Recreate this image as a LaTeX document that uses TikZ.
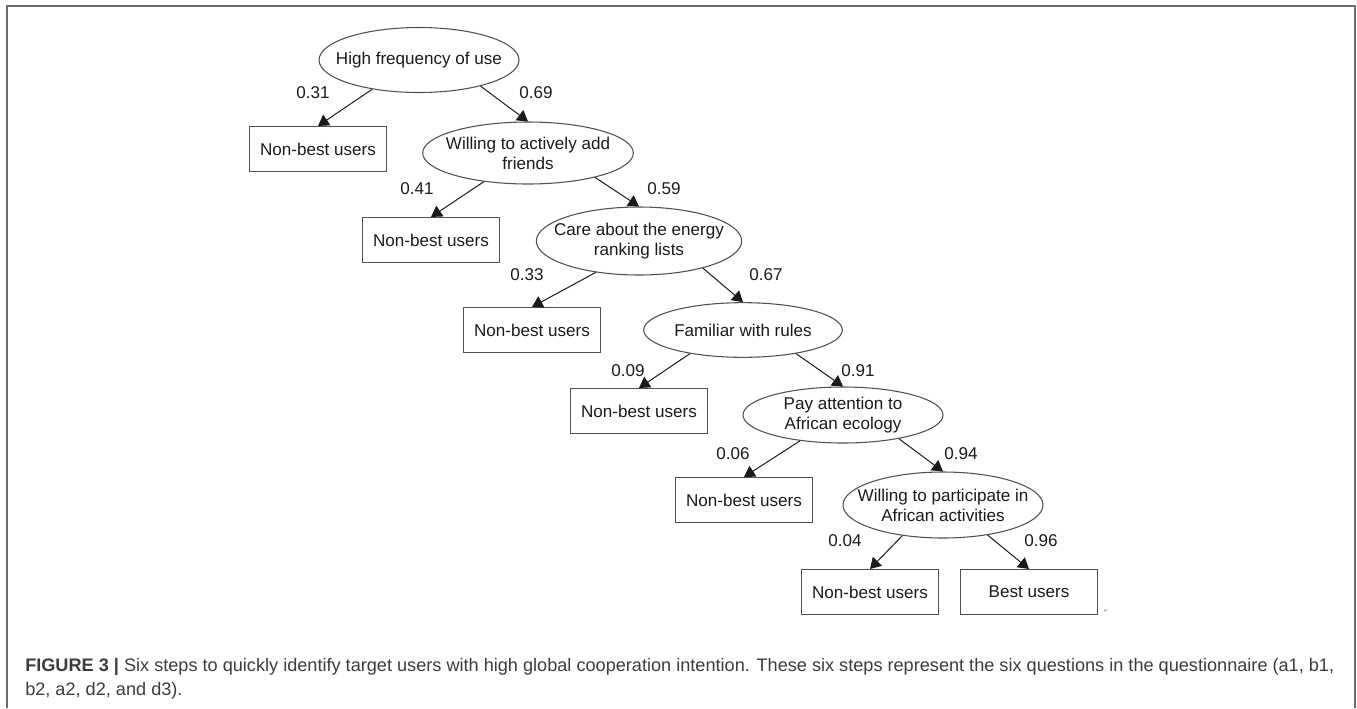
\documentclass[tikz,border=0pt]{standalone}
\usepackage{fontspec}
\setmainfont{Liberation Sans}
\newfontfamily\marksfont{DejaVu Sans}
\usepackage{xcolor}
\usetikzlibrary{arrows.meta,positioning,shapes.geometric}
\definecolor{ink}     {HTML}{1A1A1A}
\definecolor{edgegray}{HTML}{505050}
\definecolor{framegray}{HTML}{6A6A6A}
\definecolor{capgray} {HTML}{3C3C3C}
\newcommand{\treefont}{\fontsize{12.8}{15}\selectfont}
\newcommand{\qline}[1]{\makebox[0pt]{#1}}
\tikzset{
  qnode/.style  ={ellipse, draw=edgegray, line width=0.8pt, inner sep=0pt,
                  align=center, font=\treefont, text=ink},
  leaf/.style   ={rectangle, draw=edgegray, line width=0.8pt,
                  minimum width=102.75pt, minimum height=33.75pt,
                  inner sep=0pt, font=\treefont, text=ink},
  plab/.style   ={font=\treefont, text=ink, inner sep=0pt},
  arr/.style    ={-{Triangle[length=8pt,width=9.5pt]}, line width=0.75pt, draw=ink},
  framel/.style ={draw=framegray, line width=1.5pt},
  capt/.style   ={font=\fontsize{13.6}{20.25}\selectfont, text=capgray,
                  anchor=base west, inner sep=0pt},
}

\begin{document}
\begin{tikzpicture}[x=0.75pt,y=-0.75pt]
  \useasboundingbox (0,0) rectangle (1357,708);
  \draw[framel] (7,708) -- (7,6) -- (1355,6) -- (1355,708);

  \node[qnode,minimum width=150pt,minimum height=48.75pt] (q1) at (419,60)
    {\qline{High frequency of use}};
  \node[qnode,minimum width=158pt,minimum height=46.5pt] (q2) at (528,153)
    {\qline{Willing to actively add}\\\qline{friends}};
  \node[qnode,minimum width=154pt,minimum height=51pt] (q3) at (639,241)
    {\qline{Care about the energy}\\\qline{ranking lists}};
  \node[qnode,minimum width=149pt,minimum height=41pt] (q4) at (743,330)
    {\qline{Familiar with rules}};
  \node[qnode,minimum width=150pt,minimum height=42pt] (q5) at (843,415)
    {\qline{Pay attention to}\\\qline{African ecology}};
  \node[qnode,minimum width=150pt,minimum height=49.5pt] (q6) at (943,505)
    {\qline{Willing to participate in}\\\qline{African activities}};

  \node[leaf] (n1) at (318,149) {Non-best users};
  \node[leaf] (n2) at (431,240) {Non-best users};
  \node[leaf] (n3) at (532,330) {Non-best users};
  \node[leaf] (n4) at (639,411) {Non-best users};
  \node[leaf] (n5) at (744,500) {Non-best users};
  \node[leaf] (n6) at (870,592) {Non-best users};
  \node[leaf] (best) at (1029,592) {Best users};

  \node[plab] (p1) at (313,93) {0.31};
  \node[plab] (p2) at (536,93) {0.69};
  \node[plab] (p3) at (417,189) {0.41};
  \node[plab] (p4) at (664,189) {0.59};
  \node[plab] (p5) at (527,275) {0.33};
  \node[plab] (p6) at (766,275) {0.67};
  \node[plab] (p7) at (628,371) {0.09};
  \node[plab] (p8) at (858,371) {0.91};
  \node[plab] (p9) at (733,454) {0.06};
  \node[plab] (p10) at (961,454) {0.94};
  \node[plab] (p11) at (845,541) {0.04};
  \node[plab] (p12) at (1041,541) {0.96};

  \draw[arr] (q1.-148) -- (n1.north);
  \draw[arr] (q1.-23) -- (q2.north);
  \draw[arr] (q2.-147) -- (n2.north);
  \draw[arr] (q2.-20) -- (q3.north);
  \draw[arr] (q3.-144) -- (n3.north);
  \draw[arr] (q3.-23) -- (q4.north);
  \draw[arr] (q4.-156) -- (n4.north);
  \draw[arr] (q4.-24) -- (q5.north);
  \draw[arr] (q5.-149) -- (n5.north);
  \draw[arr] (q5.-23) -- (q6.north);
  \draw[arr] (q6.-143) -- (n6.north);
  \draw[arr] (q6.-34) -- (best.north);

  \node[text=framegray, font=\marksfont\fontsize{4}{4}\selectfont, inner sep=0pt] (pm) at (1106,611) {↵};

  \node[capt] (cap1) at (25,671)
    {{\bfseries FIGURE 3 |} Six steps to quickly identify target users with high global cooperation intention. These six steps represent the six questions in the questionnaire (a1, b1,};
  \node[capt] (cap2) at (25,695) {b2, a2, d2, and d3).};
\end{tikzpicture}
\end{document}
